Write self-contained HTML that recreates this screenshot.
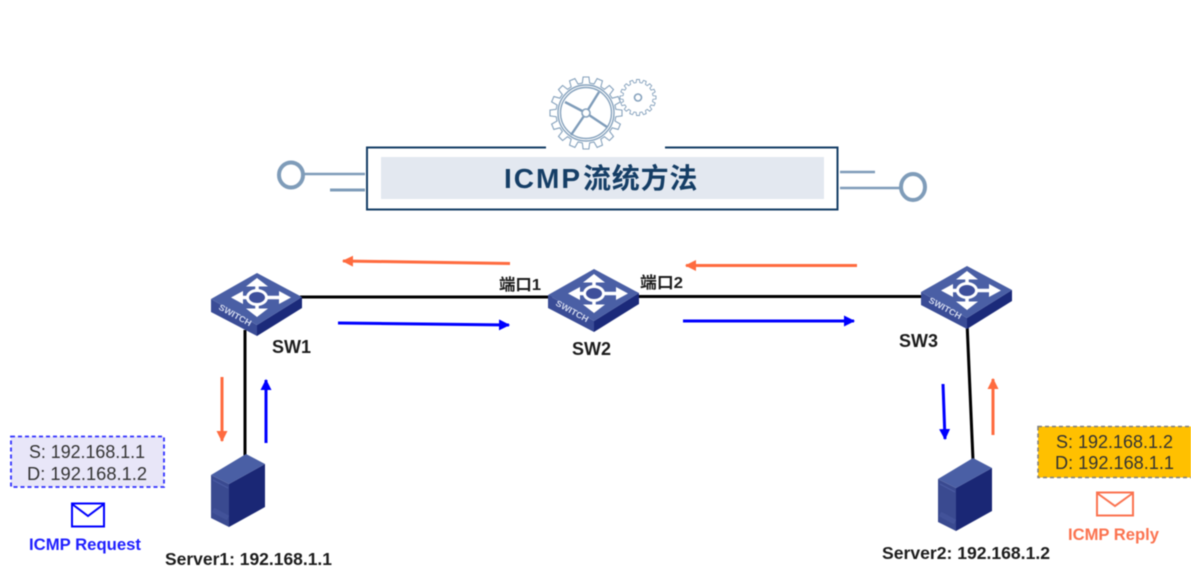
<!DOCTYPE html>
<html><head><meta charset="utf-8">
<style>
html,body{margin:0;padding:0;background:#fff;width:1191px;height:584px;overflow:hidden}
svg{display:block;filter:blur(.45px)}
text{font-family:"Liberation Sans","Noto Sans CJK SC",sans-serif}
.b{font-weight:bold;fill:#1c1c1c}
.ip{font-size:18px;fill:#333}
.sw{font-size:8.5px;font-weight:bold;fill:#d5dcf0}
</style></head><body>
<svg width="1191" height="584" viewBox="0 0 1191 584" xmlns="http://www.w3.org/2000/svg">
<defs>
<marker id="mo" markerWidth="13" markerHeight="13" refX="10" refY="5.500" orient="auto" markerUnits="userSpaceOnUse"><path d="M0 0L11 5.500L0 11Z" fill="#ff6b3f"/></marker>
<marker id="mb" markerWidth="13" markerHeight="13" refX="10" refY="5.500" orient="auto" markerUnits="userSpaceOnUse"><path d="M0 0L11 5.500L0 11Z" fill="#0000ff"/></marker>
<g id="switch">
<path d="M211 299L257 325V336L211 312Z" fill="#3a4c96"/>
<path d="M257 325L302 297V308L257 336Z" fill="#1b2a7a"/>
<path d="M211 299L257 273L302 297L257 325Z" fill="#4a5fa5"/>
<g stroke="#fff" stroke-width="3.500" fill="none">
<path d="M257 284V312M238 297.500H284"/>
</g>
<g fill="#fff">
<path d="M257 278L246 286.500H268Z"/><path d="M257 317L246 308.500H268Z"/>
<path d="M231 297.500L243 291V304Z"/><path d="M291 297.500L279 291V304Z"/>
</g>
<ellipse cx="257" cy="297.500" rx="9.500" ry="7" fill="#3e4f9b" stroke="#fff" stroke-width="3"/>
</g>
<g id="server">
<path d="M211 475L229 484V527L211 518Z" fill="#3a4a90"/>
<path d="M229 484L265 464V507L229 527Z" fill="#1a2775"/>
<path d="M211 475L246 454L265 464L229 484Z" fill="#4a5fa5"/>
<path d="M213 480L228 488" stroke="#4a5ba3" stroke-width="1"/>
<path d="M213 510L228 518" stroke="#4a5ba3" stroke-width="5" opacity=".5"/>
</g>
<path id="t" d="M-5.900 -29.400L-3.700 -29.800L-2.900 -36L2.900 -36L3.700 -29.800L5.900 -29.400"/>
<g id="q"><use href="#t"/><use href="#t" transform="rotate(22.500)"/><use href="#t" transform="rotate(45)"/><use href="#t" transform="rotate(67.500)"/></g>
<g id="gear"><use href="#q"/><use href="#q" transform="rotate(90)"/><use href="#q" transform="rotate(180)"/><use href="#q" transform="rotate(270)"/></g>
</defs>

<!-- Gears -->
<g fill="none" stroke="#86a2bd">
<g transform="translate(586 113)" stroke-width="1.100"><use href="#gear"/></g>
<g transform="translate(638 97.500) scale(.5)" stroke-width="1.800"><use href="#gear"/></g>
<circle cx="586" cy="113" r="28" stroke-width="1.400"/>
<circle cx="586" cy="113" r="25.500" stroke-width="1.400"/>
<path d="M586 113L565 102M586 113L599 92M586 113L571 135M586 113L607 127" stroke-width="2.400" stroke="#7f9cb9"/>
<circle cx="586" cy="113" r="4" fill="#fff" stroke-width="1.600"/>
<circle cx="638" cy="97.500" r="3.500" stroke-width="1.600"/>
</g>

<!-- Title box -->
<rect x="381" y="157" width="443" height="42" fill="#e3e8f0"/>
<path d="M546 147.500H367V209.500H837.500V147.500H665" fill="none" stroke="#153e66" stroke-width="2"/>
<text x="504" y="188" font-size="28" font-weight="bold" fill="#153e66"><tspan letter-spacing="2">ICMP</tspan><tspan x="583" letter-spacing=".8">流统方法</tspan></text>

<!-- Title connectors -->
<g fill="none" stroke="#7f9cb9">
<ellipse cx="291" cy="175" rx="12" ry="12.500" stroke-width="4"/>
<path d="M303 174H365" stroke-width="2.500"/>
<path d="M330 190H365" stroke-width="3"/>
<path d="M840 172H875" stroke-width="2.500"/>
<path d="M840 188H901" stroke-width="2.500"/>
<ellipse cx="913" cy="187" rx="12" ry="13" stroke-width="4"/>
</g>

<!-- Links -->
<g stroke="#000" stroke-width="3" fill="none">
<path d="M300 297H552"/>
<path d="M636 296.500H924"/>
<path d="M245 330V456"/>
<path d="M967 322L973 460"/>
</g>

<!-- Switches -->
<use href="#switch"/>
<text class="sw" transform="translate(218 309) rotate(29)" textLength="36" lengthAdjust="spacingAndGlyphs">SWITCH</text>
<use href="#switch" x="337" y="-4"/>
<text class="sw" transform="translate(555 305) rotate(29)" textLength="36" lengthAdjust="spacingAndGlyphs">SWITCH</text>
<use href="#switch" x="710" y="-7"/>
<text class="sw" transform="translate(928 302) rotate(29)" textLength="36" lengthAdjust="spacingAndGlyphs">SWITCH</text>

<!-- Servers -->
<use href="#server"/>
<use href="#server" x="727" y="4"/>

<!-- Arrows -->
<g fill="none" stroke-width="3">
<path d="M510 263.500L343 261" stroke="#ff6b3f" marker-end="url(#mo)"/>
<path d="M857 265.500L686 265.500" stroke="#ff6b3f" marker-end="url(#mo)"/>
<path d="M338 323L509 325" stroke="#0000ff" marker-end="url(#mb)"/>
<path d="M683 321L854 321" stroke="#0000ff" marker-end="url(#mb)"/>
<path d="M222 377V441" stroke="#ff6b3f" marker-end="url(#mo)"/>
<path d="M266 443V380" stroke="#0000ff" marker-end="url(#mb)"/>
<path d="M943 384L945 439" stroke="#0000ff" marker-end="url(#mb)"/>
<path d="M993 435V379" stroke="#ff6b3f" marker-end="url(#mo)"/>
</g>

<!-- Labels -->
<text class="b" x="272" y="353" font-size="18">SW1</text>
<text class="b" x="572" y="355" font-size="18">SW2</text>
<text class="b" x="899" y="347" font-size="18">SW3</text>
<text class="b" x="499" y="290" font-size="16" textLength="42" lengthAdjust="spacingAndGlyphs">端口1</text>
<text class="b" x="640" y="288" font-size="16" textLength="43" lengthAdjust="spacingAndGlyphs">端口2</text>
<text class="b" x="165" y="565" font-size="17.500" textLength="167" lengthAdjust="spacingAndGlyphs">Server1: 192.168.1.1</text>
<text class="b" x="882" y="559" font-size="17.500" textLength="168" lengthAdjust="spacingAndGlyphs">Server2: 192.168.1.2</text>

<!-- Left info -->
<rect x="11" y="436.500" width="153" height="50.500" fill="#e8e6f8" stroke="#2f2fff" stroke-width="1.800" stroke-dasharray="4 3"/>
<text class="ip" x="29" y="458" textLength="116" lengthAdjust="spacingAndGlyphs">S: 192.168.1.1</text>
<text class="ip" x="27" y="480" textLength="120" lengthAdjust="spacingAndGlyphs">D: 192.168.1.2</text>
<rect x="72" y="503.500" width="32" height="23" fill="#fff" stroke="#0000ff" stroke-width="2"/>
<path d="M72 504L88 516L104 504" fill="none" stroke="#0000ff" stroke-width="2"/>
<text x="29" y="550" font-size="16.500" font-weight="bold" fill="#1f1fff" textLength="112" lengthAdjust="spacingAndGlyphs">ICMP Request</text>

<!-- Right info -->
<rect x="1038" y="426.500" width="154" height="51" fill="#ffc000" stroke="#7f7f7f" stroke-width="1.500" stroke-dasharray="4 3"/>
<text class="ip" x="1056" y="448" textLength="117" lengthAdjust="spacingAndGlyphs">S: 192.168.1.2</text>
<text class="ip" x="1055" y="469" textLength="119" lengthAdjust="spacingAndGlyphs">D: 192.168.1.1</text>
<rect x="1097" y="492.500" width="36" height="23" fill="#fff" stroke="#fb7350" stroke-width="2"/>
<path d="M1097 493L1115 506L1133 493" fill="none" stroke="#fb7350" stroke-width="2"/>
<text x="1068" y="540" font-size="16.500" font-weight="bold" fill="#fb7350" textLength="91" lengthAdjust="spacingAndGlyphs">ICMP Reply</text>
</svg>
</body></html>
